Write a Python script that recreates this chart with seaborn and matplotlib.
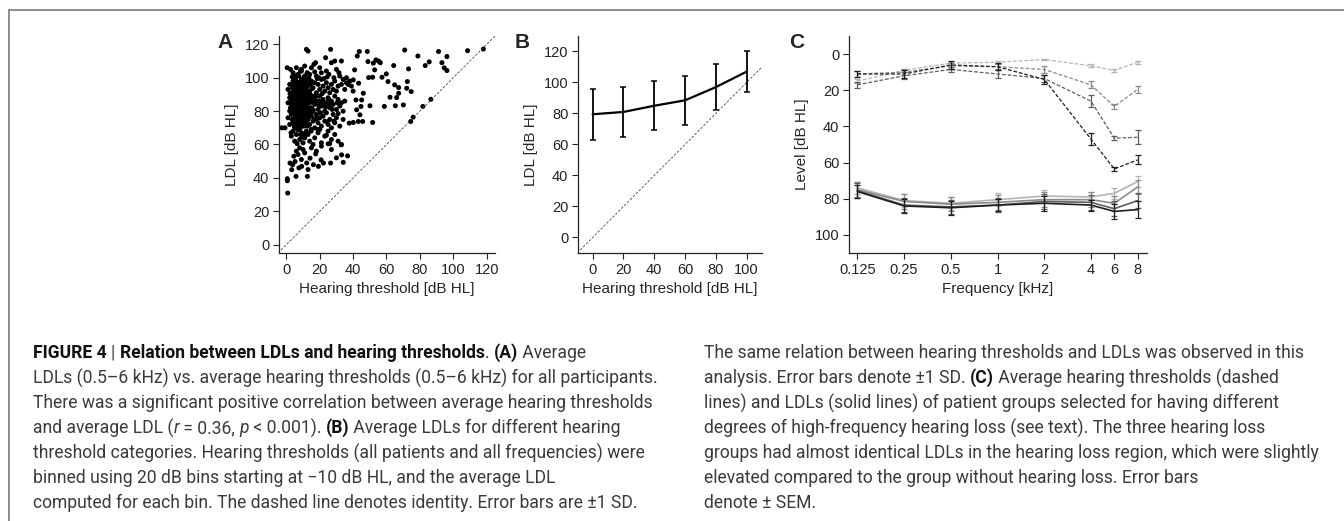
import numpy as np
import pandas as pd
import matplotlib.pyplot as plt
import seaborn as sns
from matplotlib.lines import Line2D

sns.set_style("ticks")
plt.rcParams['font.family'] = ['Liberation Sans', 'DejaVu Sans']

# ---------------- Panel A: LDL vs hearing threshold (per participant) ----------------
a_thr = [0.5, 2.5, 4, 6, 7.5, 9, 11, 12.5, 13.5, 15,
         16.5, 18, 19.5, 21, 22.5, 24, 25.5, 27, 28.5, 30,
         31.5, 33, 36, 38, 12, 13, 17.5, 23.5, 26.5, 29,
         3.5, 5.5, 8.5, 10.5, 14, 20, 24.5, 32, 34, 37,
         1, 2, 3, 4, 5, 5.5, 6, 6.5, 7, 7.5,
         8, 8.5, 9, 9.5, 10, 10.5, 11, 11.5, 12, 13,
         14, 15, 16, 17, 18, 19, 20, 21, 22, 23,
         24, 25, 26, 27, 28, 29, 30, 31, 33, 35,
         36, 39, 40, 4.5, 6.8, 9.2, 12.5, 15.5, 18.5, 21.5,
         1, 2, 2.5, 3, 3.5, 4, 4.5, 5, 5.5, 6,
         6.5, 7, 7.5, 8, 8.5, 9, 9.5, 10, 10.5, 11,
         11.5, 12, 12.5, 13, 13.5, 14, 14.5, 15, 16, 17,
         18, 19, 20, 21, 22, 23, 24, 25, 26, 27,
         28, 29, 30, 31, 32, 33, 34, 35, 3, 5,
         7, 9, 11, 13, 4, 6, 8, 10, 12, 14,
         15.5, 17.5, 19.5, 21.5, 23.5, 25.5, 27.5, 2, 7.8, 9.8,
         -2.8, -0.8, 1, 2, 3, 4, 5, 5.5, 6, 6.5,
         7, 7.5, 8, 8.5, 9, 9.5, 10, 10.5, 11, 11.5,
         12, 13, 14, 15, 16, 17, 18, 19, 20, 21,
         22, 23, 24, 25, 26, 27, 28, 29, 30, 32,
         34, 3.5, 6.8, 9.2, 12.5, 15.5, 18.5, 24.5, 28.5, 31,
         3, 4, 5, 6, 7, 8, 9, 10, 11, 12,
         13, 14, 15, 17, 19, 21, 23, 25, 27, 29,
         31, 33, 6.5, 9.5, 16, 20, 26, 24, 8.2, 11.5,
         0.6, 0.6, 0.8, 2.2, 3.2, 3.8, 5.2, 5.8, 6, 7,
         8, 9.2, 10, 12.2, 12.6, 14.2, 16.2, 17.6, 19.2, 20.8,
         22.2, 26.5, 25.1, 32.9, 33.1, 34.1, 36.7, 11, 15, 18,
         9, 13, 21, 27, 30, 7.5, 4.5,
         118, 108.6, 96.2, 94.6, 93.2, 96.2, 91.2, 85.6, 83.2, 78.8,
         70.9, 73.2, 72.5, 72.1, 74.8, 67.3, 67.3, 64.9, 66.1, 62.1,
         58.7, 65.3, 70.1, 59.9, 57.3, 60.9, 64.3, 55.3, 56.3, 53.7,
         52.9, 52.1, 48.9, 48.5, 43.7, 42.5, 40.9, 49.3, 51.7, 50.1,
         51.7, 37.7, 40.1, 43.1, 45.7, 44.1, 42.1, 44.7, 41.7, 45.1,
         46.1, 43.3, 40.1, 74.5, 76, 81.8, 86.6]
a_ldl = [106, 105, 103, 106, 101, 104, 107, 103, 100, 106,
         108, 101, 100, 103, 99.5, 104, 102, 109, 100, 105,
         103, 110, 100, 98, 117, 116, 109, 112, 117, 110,
         100.5, 101, 104, 100, 102, 106, 100.5, 101, 99, 96,
         93, 96, 91, 98, 94, 99, 92, 96, 90, 97,
         95, 92, 99, 94, 97, 91, 95, 98, 93, 96,
         92, 98, 94, 97, 91, 96, 93, 99, 95, 92,
         97, 94, 91, 96, 93, 98, 92, 95, 96, 93,
         97, 95, 92, 95.5, 94.5, 96.5, 91.5, 93.5, 99.5, 90.5,
         85, 88, 82, 86, 80, 89, 84, 87, 81, 85,
         88, 83, 86, 80, 89, 84, 87, 82, 85, 88,
         81, 86, 83, 89, 80, 85, 87, 82, 88, 84,
         86, 81, 89, 83, 87, 80, 85, 88, 82, 86,
         84, 89, 81, 87, 83, 85, 80, 86, 83.5, 83,
         81.5, 86.5, 83.5, 87.5, 81, 82.5, 85.5, 80.5, 89.5, 81.5,
         85.5, 88.5, 83.5, 85, 82.5, 84, 81, 80, 88, 88.5,
         70, 70, 76, 72, 78, 74, 71, 77, 79, 73,
         76, 70.5, 78, 74, 72, 79, 75, 71, 77, 73,
         79, 75, 72, 77, 74, 70, 78, 73, 76, 71,
         77, 74, 79, 72, 75, 70, 78, 73, 76, 71,
         75, 75, 74.5, 76.5, 71.5, 79.5, 75.5, 73.5, 74, 78.5,
         65, 68, 62, 66, 69, 63, 67, 61, 64, 68,
         66, 62, 69, 64, 67, 61, 65, 68, 63, 66,
         62, 60, 60.5, 64.5, 60, 69, 60.5, 65.5, 69.5, 66,
         38.3, 39.5, 30.9, 48.9, 44.9, 47.9, 49.8, 40.9, 56, 54,
         58, 46.9, 57, 48.9, 40.9, 51.8, 47.9, 54.4, 46.9, 50.8,
         48.9, 48.9, 60.4, 59.8, 53.8, 49.3, 53.2, 55, 58, 56,
         51, 45, 59, 57, 52, 46, 53,
         117.2, 116.2, 104.3, 105.9, 109, 112.7, 115.7, 109.5, 107.3, 113,
         116.6, 105.3, 97.7, 93.7, 91.7, 90.7, 94.1, 95.7, 88.1, 88.3,
         82.8, 83.2, 83.7, 102.3, 100.3, 97.7, 107.3, 109.9, 109, 110.7,
         104.7, 108.7, 109.7, 115.7, 115.7, 113, 104.7, 100.1, 100.3, 83.2,
         73.2, 72.8, 73.2, 73.8, 73.8, 77.8, 80.8, 82.8, 86.7, 86.7,
         90.7, 96.7, 98.7, 73.8, 76.4, 82.8, 87.1]
# extra points filling the dense core of the cloud
a_thr_core = [2.2, 3.8, 4.8, 5.8, 6.2, 7.2, 8.2, 9.8, 10.8, 11.8,
              12.8, 14.8, 3.2, 4.2, 5.2, 6.2, 7.2, 8.2, 9.2, 10.2,
              11.2, 12.2, 13.2, 14.2, 16.2, 2.8, 4.8, 6.8, 8.8, 10.8,
              12.8, 14.8, 16.8, 18.8, 3.6, 5.6, 7.6, 9.6, 11.6, 13.6,
              15.6, 17.6, 19.6, 22.6, 4.4, 6.4, 8.4, 10.4, 12.4, 14.4,
              16.4, 20.4, 25.4, 30.4, 5, 7, 9, 11, 13, 17]
a_ldl_core = [90.5, 87.5, 92, 83, 97.5, 89.5, 93, 90, 86.5, 91.5,
              95, 89, 78.5, 81.5, 75.5, 87, 80, 83.5, 77, 92.5,
              79.5, 84, 76, 90, 80.5, 67, 70.5, 69, 73.5, 66.5,
              71, 68, 75, 69, 94, 90, 82, 79, 98, 77.5,
              81, 75.5, 86, 84.5, 72.5, 78, 66, 84, 74.5, 96,
              89, 79, 87, 85, 100, 102, 105, 101, 99, 103.5]

# ---------------- Panel B: binned LDL ----------------
b_thr = [0, 20, 40, 60, 80, 100]
b_ldl = [79.5, 81, 85, 88.5, 97, 107]
b_sd = [16.3, 16.3, 15.8, 15.8, 15, 13]

# ---------------- Panel C: group audiograms and LDLs ----------------
freq_labels = ['0.125', '0.25', '0.5', '1', '2', '4', '6', '8']
freq_pos = [0, 1, 2, 3, 4, 5, 5.5, 6]  # audiogram axis: octaves, 6 kHz between 4 and 8
groups = ['none', 'mild', 'moderate', 'severe']
group_colors = ['#b4b4b4', '#8a8a8a', '#5e5e5e', '#1e1e1e']
thr_none = [15, 9, 5, 4.5, 3, 6.5, 9, 4.5]
thr_mild = [11, 10, 6.5, 7, 8.5, 17, 29, 19.5]
thr_moderate = [17, 12, 8.5, 11, 13.5, 26, 46.5, 46]
thr_severe = [11, 11, 6, 7, 14, 47, 63.5, 58.5]
thr_sem_none = [1, 1, 0.8, 0.8, 0.5, 0.8, 0.7, 0.8]
thr_sem_mild = [1.5, 1.5, 1.5, 1.5, 2, 2, 1.5, 2]
thr_sem_moderate = [1.5, 2, 1.5, 2, 2, 3.5, 1, 4]
thr_sem_severe = [1.5, 2, 2, 2, 2.5, 3.5, 1.2, 2.5]
ldl_none = [74, 81, 82.5, 80.5, 78.5, 79, 77, 70.5]
ldl_mild = [75, 81.5, 83, 82, 80.5, 80.5, 82.5, 73.5]
ldl_moderate = [75.5, 83.5, 84.5, 83.5, 81.5, 82, 85.5, 81]
ldl_severe = [76, 84, 85, 83.5, 82.5, 83.5, 87, 86]
ldl_sem_none = [3.5, 3.5, 3.5, 3.5, 3.5, 3, 3, 3]
ldl_sem_mild = [4, 4, 4, 4, 4, 4, 4, 4]
ldl_sem_moderate = [4, 4, 4, 4, 4, 4, 4, 4]
ldl_sem_severe = [3.5, 4, 4, 3.5, 4, 3, 4, 4.5]

fig = plt.figure(figsize=(13.44, 5.21), dpi=100)
W, H = 1344, 521

def px_axes(left, top, right, bottom):
    return fig.add_axes([left / W, 1 - bottom / H, (right - left) / W, (bottom - top) / H])

def style_axes(ax):
    sns.despine(ax=ax)
    for s in ['left', 'bottom']:
        ax.spines[s].set_linewidth(0.9)
        ax.spines[s].set_color('#222222')
    ax.tick_params(direction='out', length=4, width=0.8, labelsize=10.5, colors='#222222', pad=3)
    ax.xaxis.label.set_size(11)
    ax.yaxis.label.set_size(11)

# A
axA = px_axes(279, 36, 495, 253)
axA.plot([-5, 125], [-5, 125], ls=(0, (3, 2)), color='#444444', lw=0.6)
sns.scatterplot(x=a_thr + a_thr_core, y=a_ldl + a_ldl_core, ax=axA, color='black', s=13,
                edgecolor='none', linewidth=0)
axA.set_xlim(-4.4, 125)
axA.set_ylim(-5, 125)
axA.set_xticks(range(0, 121, 20))
axA.set_yticks(range(0, 121, 20))
axA.set_xlabel('Hearing threshold [dB HL]')
axA.set_ylabel('LDL [dB HL]')
style_axes(axA)

# B
axB = px_axes(578, 36, 762, 253)
axB.plot([-10, 110], [-10, 110], ls=(0, (3, 2)), color='#444444', lw=0.6)
df_b = pd.DataFrame({'thr': b_thr, 'ldl': b_ldl, 'sd': b_sd})
sns.lineplot(data=df_b, x='thr', y='ldl', ax=axB, color='black', lw=1.6)
axB.errorbar(df_b['thr'], df_b['ldl'], yerr=df_b['sd'], fmt='none', ecolor='black',
             elinewidth=1.3, capsize=2.5, capthick=1.1)
axB.set_xlim(-9.5, 110)
axB.set_ylim(-10, 130)
axB.set_xticks(range(0, 101, 20))
axB.set_yticks(range(0, 121, 20))
axB.set_xlabel('Hearing threshold [dB HL]')
axB.set_ylabel('LDL [dB HL]')
style_axes(axB)

# C
axC = px_axes(849, 36, 1147, 253)
thr_sets = [thr_none, thr_mild, thr_moderate, thr_severe]
thr_sems = [thr_sem_none, thr_sem_mild, thr_sem_moderate, thr_sem_severe]
ldl_sets = [ldl_none, ldl_mild, ldl_moderate, ldl_severe]
ldl_sems = [ldl_sem_none, ldl_sem_mild, ldl_sem_moderate, ldl_sem_severe]
for g, col, thr, tsem, ldl, lsem in zip(groups, group_colors, thr_sets, thr_sems, ldl_sets, ldl_sems):
    sns.lineplot(x=freq_pos, y=thr, ax=axC, color=col, lw=0.9, linestyle=(0, (3, 1.5)))
    axC.errorbar(freq_pos, thr, yerr=tsem, fmt='none', ecolor=col, elinewidth=0.9,
                 capsize=2, capthick=0.9)
    sns.lineplot(x=freq_pos, y=ldl, ax=axC, color=col, lw=1.2)
    axC.errorbar(freq_pos, ldl, yerr=lsem, fmt='none', ecolor=col, elinewidth=0.9,
                 capsize=2, capthick=0.9)
axC.set_xlim(-0.18, 6.2)
axC.set_ylim(110, -10)
axC.set_xticks(freq_pos)
axC.set_xticklabels(freq_labels)
axC.set_yticks(range(0, 101, 20))
axC.set_xlabel('Frequency [kHz]')
axC.set_ylabel('Level [dB HL]')
style_axes(axC)

# panel letters
for lab, xp in [('A', 225), ('B', 522), ('C', 797)]:
    fig.text(xp / W, 1 - 43 / H, lab, fontsize=15, fontweight='bold', ha='center', va='center')

# frame lines
fig.add_artist(Line2D([9 / W, 1], [1 - 10 / H, 1 - 10 / H], color='#8c8c8c', lw=1.4))
fig.add_artist(Line2D([9 / W, 9 / W], [0, 1 - 10 / H], color='#8c8c8c', lw=1.4))

# ---------------- caption ----------------
cap_font = ['Roboto', 'DejaVu Sans']
cap_size = 12.65
N = dict(fontweight='normal', color='#3a3a3a')
B = dict(fontweight='bold', color='#111111')
I = dict(fontweight='normal', style='italic', color='#3a3a3a')
renderer = fig.canvas.get_renderer()

def text_w(s, props):
    t1 = fig.text(0, 0, '|' + s + '|', fontsize=cap_size, family=cap_font, **props)
    t2 = fig.text(0, 0, '||', fontsize=cap_size, family=cap_font, **props)
    w = t1.get_window_extent(renderer).width - t2.get_window_extent(renderer).width
    t1.remove()
    t2.remove()
    return w

def rich_line(x, y, parts):
    for s, props in parts:
        fig.text(x / W, 1 - y / H, s, fontsize=cap_size, family=cap_font, ha='left', va='center', **props)
        x += text_w(s, props)

left_lines = [
    [('FIGURE 4 ', B), ('| ', N), ('Relation between LDLs and hearing thresholds', B), ('. ', N), ('(A)', B), (' Average', N)],
    [('LDLs (0.5–6 kHz) vs. average hearing thresholds (0.5–6 kHz) for all participants.', N)],
    [('There was a significant positive correlation between average hearing thresholds', N)],
    [('and average LDL (', N), ('r', I), (' = 0.36, ', N), ('p', I), (' < 0.001). ', N), ('(B)', B),
     (' Average LDLs for different hearing', N)],
    [('threshold categories. Hearing thresholds (all patients and all frequencies) were', N)],
    [('binned using 20 dB bins starting at −10 dB HL, and the average LDL', N)],
    [('computed for each bin. The dashed line denotes identity. Error bars are ±1 SD.', N)],
]
right_lines = [
    [('The same relation between hearing thresholds and LDLs was observed in this', N)],
    [('analysis. Error bars denote ±1 SD. ', N), ('(C)', B), (' Average hearing thresholds (dashed', N)],
    [('lines) and LDLs (solid lines) of patient groups selected for having different', N)],
    [('degrees of high-frequency hearing loss (see text). The three hearing loss', N)],
    [('groups had almost identical LDLs in the hearing loss region, which were slightly', N)],
    [('elevated compared to the group without hearing loss. Error bars', N)],
    [('denote ± SEM.', N)],
]
for i, parts in enumerate(left_lines):
    rich_line(33, 353 + 25 * i, parts)
for i, parts in enumerate(right_lines):
    rich_line(704, 353 + 25 * i, parts)

plt.savefig('out.png', dpi=100)
plt.close()
print("saved out.png")
